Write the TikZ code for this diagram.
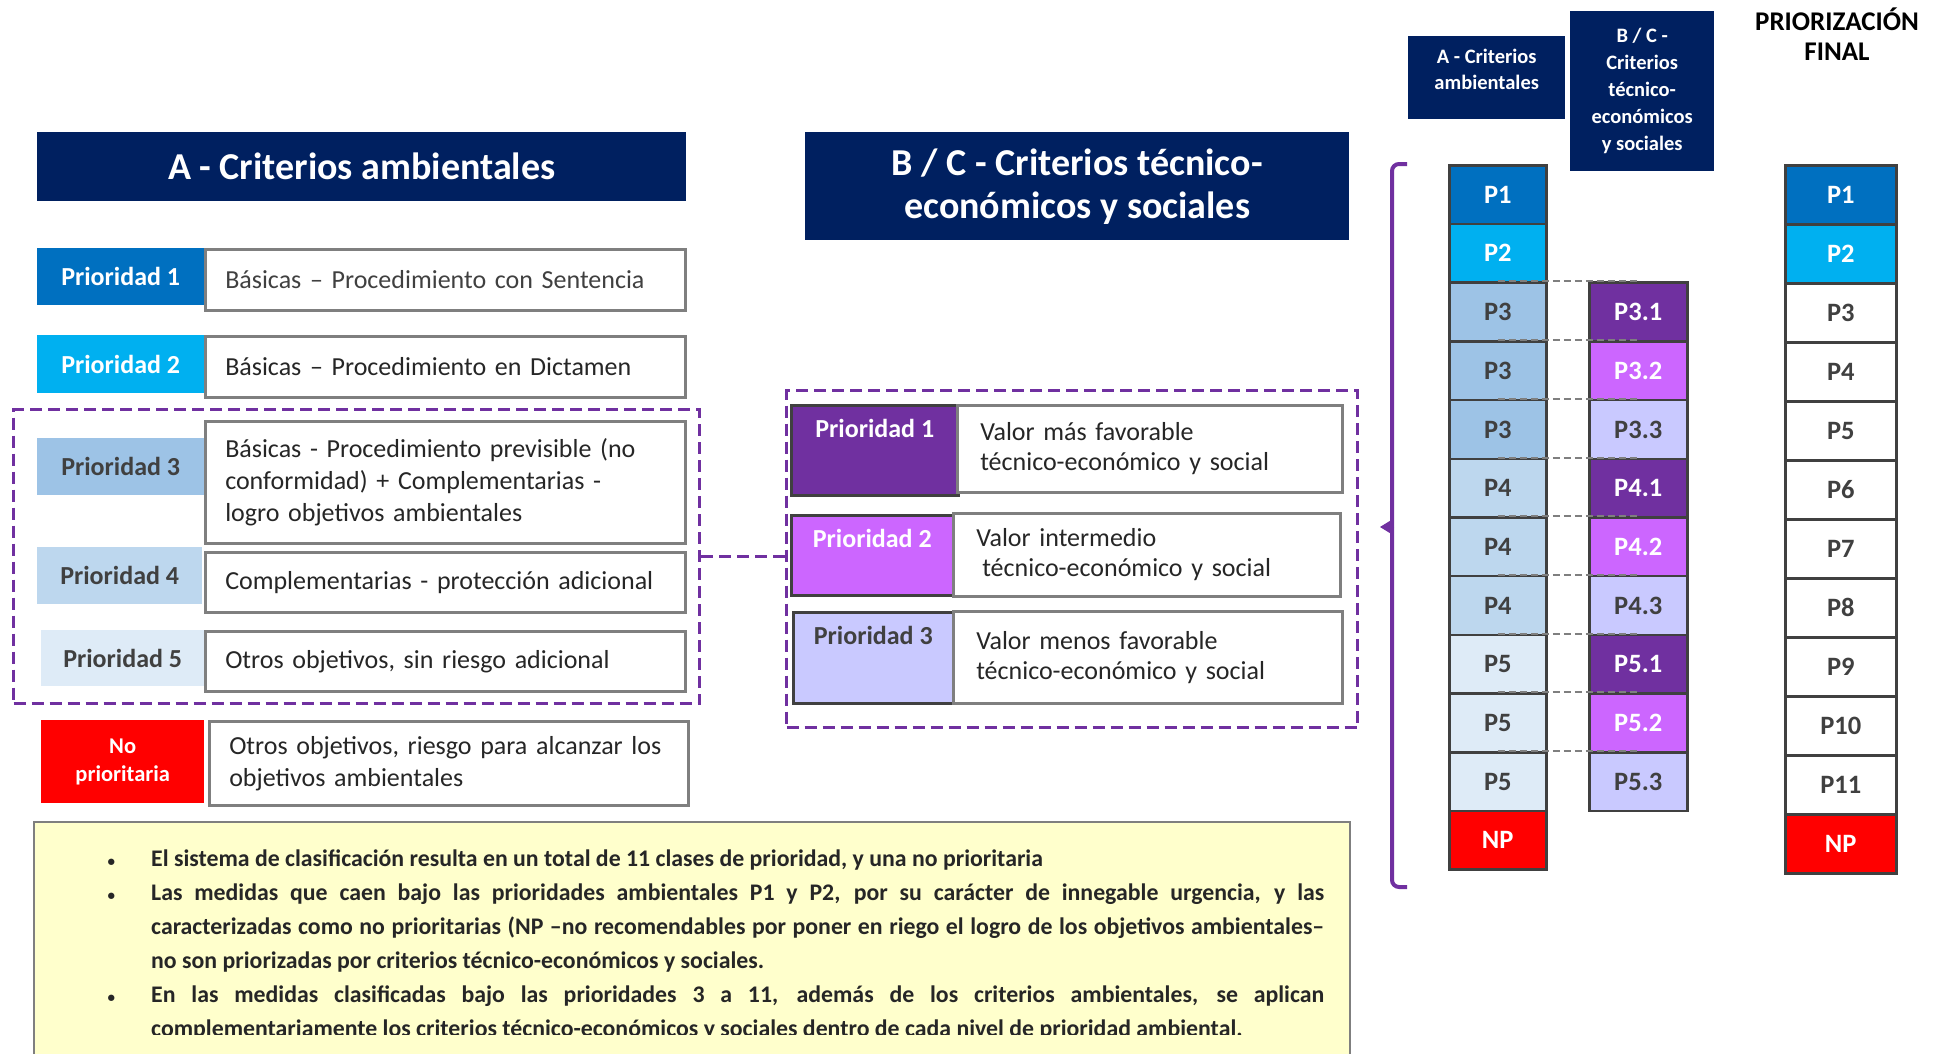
\documentclass[tikz,border=0pt]{standalone}
\usepackage{fontspec}
\setmainfont{Carlito}
\usetikzlibrary{positioning}
\definecolor{navy}{HTML}{002060}
\definecolor{purp}{HTML}{7030A0}
\definecolor{pone}{HTML}{0070C0}
\definecolor{ptwo}{HTML}{00B0F0}
\definecolor{pthree}{HTML}{9DC3E6}
\definecolor{pfour}{HTML}{BDD7EE}
\definecolor{pfive}{HTML}{DEEBF7}
\definecolor{bone}{HTML}{7030A0}
\definecolor{btwo}{HTML}{CC66FF}
\definecolor{bthree}{HTML}{C9C9FF}
\definecolor{npred}{HTML}{FF0000}
\definecolor{note}{HTML}{FFFFCC}
\definecolor{frame}{HTML}{7F7F7F}
\definecolor{cellline}{HTML}{404040}
\definecolor{ink}{HTML}{404040}
\definecolor{dark}{HTML}{262626}
\newcommand\blt{\leavevmode\llap{{\fontsize{15}{15}\selectfont\textbullet}\hspace{36pt}}}
\tikzset{
  hdr/.style={anchor=north west,fill=navy,text=white,inner sep=0,align=center},
  lbl/.style={anchor=north west,inner sep=0,text=white,font=\bfseries\fontsize{26}{30}\selectfont},
  ltxt/.style={inner sep=0,align=center,font=\bfseries\fontsize{26}{30}\selectfont},
  desc/.style={anchor=north west,draw=frame,line width=2.5pt,fill=white,text=dark,inner xsep=20pt,inner ysep=0,align=left,font=\fontsize{26}{32}\selectfont},
  grp/.style={draw=purp,line width=3pt,dash pattern=on 12pt off 6pt},
  cell/.style={anchor=north west,draw=cellline,line width=2.5pt,inner sep=0,font=\bfseries\fontsize{26.5}{30}\selectfont},
  link/.style={draw=frame,line width=2pt,dash pattern=on 7pt off 4pt},
  brace/.style={draw=purp,line width=4pt}
}
\begin{document}
\begin{tikzpicture}[x=1pt,y=-1pt]
  \clip (0,0) rectangle (1938,1054);
  \fill[white] (0,0) rectangle (1938,1054);
  % A - criterios ambientales
  \node[hdr,minimum width=649,minimum height=69,font=\bfseries\fontsize{38}{43}\selectfont] (ha) at (37,132) {A - Criterios ambientales};
  \node[grp,anchor=north west,minimum width=686,minimum height=294,inner sep=0] (ga) at (12,408) {};
  \foreach \n/\x/\y/\w/\h/\col/\fg in {1/37/248/167/57/pone/white, 2/37/335/167/58/ptwo/white, 3/37/438/167/57/pthree/ink, 4/37/547/165/57/pfour/ink, 5/41/630/163/56/pfive/ink}
    \node[lbl,fill=\col,text=\fg,minimum width=\w,minimum height=\h] (la\n) at (\x,\y) {Prioridad \n};
  \node[lbl,fill=npred,minimum width=163,minimum height=83,align=center,font=\bfseries\fontsize{22.5}{28}\selectfont] (lnp) at (41,720) {No\\prioritaria};
  \node[desc,text width=440pt,minimum height=61,text=ink] (da1) at (204,248) {Básicas – Procedimiento con Sentencia};
  \node[desc,text width=440pt,minimum height=61] (da2) at (204,335) {Básicas – Procedimiento en Dictamen};
  \node[desc,text width=440pt,minimum height=122] (da3) at (204,420) {Básicas - Procedimiento previsible (no\\conformidad) + Complementarias -\\logro objetivos ambientales};
  \node[desc,text width=440pt,minimum height=60] (da4) at (204,551) {Complementarias - protección adicional};
  \node[desc,text width=440pt,minimum height=60] (da5) at (204,630) {Otros objetivos, sin riesgo adicional};
  \node[desc,text width=439pt,minimum height=84] (dnp) at (208,720) {Otros objetivos, riesgo para alcanzar los\\objetivos ambientales};
  % B / C - criterios tecnico-economicos
  \node[hdr,minimum width=544,minimum height=108,font=\bfseries\fontsize{38}{43}\selectfont] (hb) at (805,132) {B / C - Criterios técnico-\\económicos y sociales};
  \node[grp,anchor=north west,minimum width=571,minimum height=337,inner sep=0] (gb) at (785,389) {};
  \draw[grp] (ga.east) -- (ga.east -| gb.west);
  \foreach \n/\x/\y/\w/\h/\col/\fg in {1/790/404/167/90/bone/white, 2/790/514/162/80/btwo/white, 3/792/611/160/91/bthree/ink} {
    \node[lbl,draw=cellline,line width=2.5pt,fill=\col,minimum width=\w,minimum height=\h] (lb\n) at (\x,\y) {};
    \node[ltxt,text=\fg,below=15pt of lb\n.north] (tb\n) {Prioridad \n};
  }
  \node[desc,inner xsep=23pt,text width=339pt,minimum height=87,font=\fontsize{26}{30}\selectfont] (db1) at (956,404) {Valor más favorable\\técnico-económico y social};
  \node[desc,inner xsep=23pt,text width=341pt,minimum height=83,font=\fontsize{26}{30}\selectfont] (db2) at (952,512) {Valor intermedio\\\hspace*{6pt}técnico-económico y social};
  \node[desc,inner xsep=23pt,text width=343pt,minimum height=92,font=\fontsize{26}{30}\selectfont] (db3) at (952,610) {Valor menos favorable\\técnico-económico y social};
  % columnas
  \node[hdr,minimum width=157,minimum height=83] (sa) at (1408,36) {};
  \node[ltxt,text=white,font=\bfseries\fontsize{20.5}{26}\selectfont,below=13pt of sa.north] (tsa) {A - Criterios\\ambientales};
  \node[hdr,minimum width=144,minimum height=160,font=\bfseries\fontsize{20.5}{27}\selectfont] (sb) at (1570,11) {B / C -\\Criterios\\técnico-\\económicos\\y sociales};
  \node[ltxt,font=\bfseries\fontsize{27}{30}\selectfont] (fin) at (1837,34) {PRIORIZACIÓN\\FINAL};
  \draw[brace,rounded corners=7pt] (1407,164) -- (1392,164) -- (1392,527);
  \draw[brace,rounded corners=7pt] (1392,527) -- (1392,887) -- (1407,887);
  \fill[purp] (1393,519) -- (1380,527) -- (1393,535) -- cycle;
  \foreach \i/\txt/\col/\fg in {0/P1/pone/white,1/P2/ptwo/white,2/P3/pthree/ink,3/P3/pthree/ink,4/P3/pthree/ink,5/P4/pfour/ink,6/P4/pfour/ink,7/P4/pfour/ink,8/P5/pfive/ink,9/P5/pfive/ink,10/P5/pfive/ink,11/NP/npred/white}
    \node[cell,fill=\col,text=\fg,minimum width=97,minimum height=58.7] (a\i) at (1448,164+58.7*\i) {\txt};
  \foreach \i/\txt/\col/\fg in {2/P3.1/bone/white,3/P3.2/btwo/white,4/P3.3/bthree/ink,5/P4.1/bone/white,6/P4.2/btwo/white,7/P4.3/bthree/ink,8/P5.1/bone/white,9/P5.2/btwo/white,10/P5.3/bthree/ink}
    \node[cell,fill=\col,text=\fg,minimum width=98,minimum height=58.7] (b\i) at (1588,164+58.7*\i) {\txt};
  \foreach \i in {2,...,10}
    \draw[link] (a\i.north) -- (b\i.north);
  \node[cell,fill=pone,text=white,minimum width=111,minimum height=59] (f0) at (1784,164) {P1};
  \node[cell,fill=ptwo,text=white,minimum width=111,minimum height=59] (f1) at (1784,223) {P2};
  \foreach \i in {2,...,10}
    {\pgfmathtruncatemacro{\k}{\i+1} \node[cell,fill=white,text=ink,minimum width=111,minimum height=59] (f\i) at (1784,164+59*\i) {P\k};}
  \node[cell,fill=npred,text=white,minimum width=111,minimum height=59] (f11) at (1784,813) {NP};
  % notas
  \node[anchor=north west,draw=frame,line width=2pt,fill=note,minimum width=1316,minimum height=260,inner sep=0] (nb) at (33,821) {};
  \begin{scope}
    \clip (nb.north west) rectangle (1349,1034);
    \node[anchor=north west,inner sep=0,text width=1173pt,align=justify,text=dark,font=\bfseries\fontsize{23.8}{34}\selectfont] (nt) at (151,850) {\parindent=0pt
      \blt El sistema de clasificación resulta en un total de 11 clases de prioridad, y una no prioritaria\par
      \blt Las medidas que caen bajo las prioridades ambientales P1 y P2, por su carácter de innegable urgencia, y las\linebreak caracterizadas como no prioritarias (NP –no recomendables por poner en riego el logro de los objetivos ambientales–\linebreak no son priorizadas por criterios técnico-económicos y sociales.\par
      \blt En las medidas clasificadas bajo las prioridades 3 a 11, además de los criterios ambientales, se aplican\linebreak complementariamente los criterios técnico-económicos y sociales dentro de cada nivel de prioridad ambiental.};
  \end{scope}
\end{tikzpicture}
\end{document}
